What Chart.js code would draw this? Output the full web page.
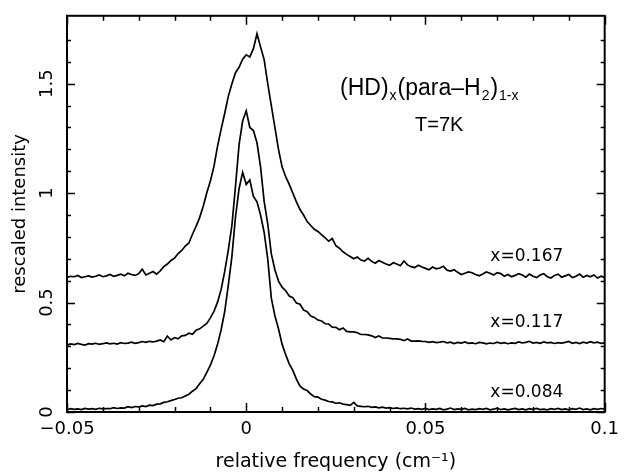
<!doctype html>
<html lang="en">
<head>
<meta charset="utf-8">
<title>HD in para-H2 spectra</title>
<script src="https://cdn.jsdelivr.net/npm/chart.js@4.4.0/dist/chart.umd.min.js"></script>
<style>
  html, body { margin: 0; padding: 0; background: #fff; }
  #wrap { width: 626px; height: 474px; }
</style>
</head>
<body>
<div id="wrap"><canvas id="myChart" width="626" height="474"></canvas></div>
<script>
// relative frequency (cm-1), shared by the three spectra
var freq = [
  -0.050, -0.049, -0.048, -0.047, -0.046, -0.045, -0.044, -0.043, -0.042, -0.041,
  -0.040, -0.039, -0.038, -0.037, -0.036, -0.035, -0.034, -0.033, -0.032, -0.031,
  -0.030, -0.029, -0.028, -0.027, -0.026, -0.025, -0.024, -0.023, -0.022, -0.021,
  -0.020, -0.019, -0.018, -0.017, -0.016, -0.015, -0.014, -0.013, -0.012, -0.011,
  -0.010, -0.009, -0.008, -0.007, -0.006, -0.005, -0.004, -0.003, -0.002, -0.001,
   0.000,  0.001,  0.002,  0.003,  0.004,  0.005,  0.006,  0.007,  0.008,  0.009,
   0.010,  0.011,  0.012,  0.013,  0.014,  0.015,  0.016,  0.017,  0.018,  0.019,
   0.020,  0.021,  0.022,  0.023,  0.024,  0.025,  0.026,  0.027,  0.028,  0.029,
   0.030,  0.031,  0.032,  0.033,  0.034,  0.035,  0.036,  0.037,  0.038,  0.039,
   0.040,  0.041,  0.042,  0.043,  0.044,  0.045,  0.046,  0.047,  0.048,  0.049,
   0.050,  0.051,  0.052,  0.053,  0.054,  0.055,  0.056,  0.057,  0.058,  0.059,
   0.060,  0.061,  0.062,  0.063,  0.064,  0.065,  0.066,  0.067,  0.068,  0.069,
   0.070,  0.071,  0.072,  0.073,  0.074,  0.075,  0.076,  0.077,  0.078,  0.079,
   0.080,  0.081,  0.082,  0.083,  0.084,  0.085,  0.086,  0.087,  0.088,  0.089,
   0.090,  0.091,  0.092,  0.093,  0.094,  0.095,  0.096,  0.097,  0.098,  0.099,
   0.100
];

// x = 0.167 (offset upward)
var int167 = [
  0.615, 0.620, 0.618, 0.624, 0.614, 0.618, 0.622, 0.616, 0.620, 0.626,
  0.618, 0.622, 0.628, 0.620, 0.624, 0.630, 0.622, 0.634, 0.628, 0.624,
  0.632, 0.652, 0.626, 0.634, 0.642, 0.630, 0.645, 0.664, 0.676, 0.692,
  0.703, 0.724, 0.738, 0.758, 0.772, 0.812, 0.848, 0.888, 0.940, 1.002,
  1.055, 1.122, 1.215, 1.292, 1.365, 1.442, 1.500, 1.550, 1.575, 1.612,
  1.632, 1.622, 1.660, 1.728, 1.668, 1.610, 1.500, 1.400, 1.300, 1.200,
  1.120, 1.075, 1.040, 1.000, 0.960, 0.925, 0.900, 0.870, 0.852, 0.835,
  0.825, 0.810, 0.796, 0.780, 0.792, 0.760, 0.748, 0.732, 0.720, 0.710,
  0.700, 0.708, 0.694, 0.690, 0.702, 0.688, 0.680, 0.692, 0.684, 0.676,
  0.670, 0.682, 0.676, 0.668, 0.690, 0.672, 0.664, 0.660, 0.670, 0.662,
  0.656, 0.650, 0.662, 0.654, 0.658, 0.666, 0.648, 0.644, 0.650, 0.638,
  0.628, 0.634, 0.640, 0.636, 0.628, 0.622, 0.630, 0.640, 0.634, 0.626,
  0.636, 0.632, 0.620, 0.628, 0.618, 0.624, 0.632, 0.626, 0.616, 0.630,
  0.620, 0.614, 0.626, 0.632, 0.618, 0.612, 0.624, 0.630, 0.616, 0.622,
  0.628, 0.614, 0.620, 0.630, 0.616, 0.624, 0.618, 0.626, 0.612, 0.620,
  0.614
];

// x = 0.117
var int117 = [
  0.305, 0.311, 0.308, 0.313, 0.309, 0.306, 0.312, 0.310, 0.314, 0.309,
  0.312, 0.316, 0.311, 0.314, 0.310, 0.317, 0.313, 0.315, 0.319, 0.314,
  0.317, 0.322, 0.318, 0.323, 0.320, 0.324, 0.329, 0.321, 0.347, 0.329,
  0.340, 0.334, 0.348, 0.350, 0.360, 0.355, 0.374, 0.380, 0.392, 0.405,
  0.430, 0.460, 0.502, 0.560, 0.642, 0.740, 0.852, 1.030, 1.220, 1.330,
  1.376, 1.300, 1.286, 1.230, 1.120, 0.962, 0.860, 0.722, 0.650, 0.598,
  0.570, 0.554, 0.530, 0.522, 0.498, 0.492, 0.466, 0.458, 0.438, 0.432,
  0.420, 0.416, 0.403, 0.402, 0.388, 0.387, 0.376, 0.384, 0.368, 0.366,
  0.366, 0.362, 0.354, 0.354, 0.352, 0.348, 0.340, 0.347, 0.338, 0.338,
  0.336, 0.334, 0.334, 0.332, 0.326, 0.334, 0.324, 0.324, 0.325, 0.323,
  0.322, 0.318, 0.321, 0.317, 0.319, 0.322, 0.316, 0.319, 0.313, 0.318,
  0.315, 0.320, 0.314, 0.316, 0.312, 0.318, 0.316, 0.311, 0.315, 0.313,
  0.319, 0.314, 0.317, 0.312, 0.316, 0.314, 0.320, 0.316, 0.318, 0.323,
  0.315, 0.318, 0.314, 0.320, 0.316, 0.318, 0.313, 0.317, 0.315, 0.318,
  0.322, 0.314, 0.318, 0.313, 0.319, 0.315, 0.321, 0.316, 0.319, 0.314,
  0.316
];

// x = 0.084
var int084 = [
  0.010, 0.015, 0.012, 0.014, 0.011, 0.016, 0.013, 0.015, 0.012, 0.017,
  0.014, 0.016, 0.015, 0.020, 0.016, 0.019, 0.018, 0.024, 0.020, 0.025,
  0.023, 0.028, 0.025, 0.031, 0.029, 0.036, 0.037, 0.044, 0.047, 0.052,
  0.057, 0.063, 0.065, 0.073, 0.081, 0.095, 0.107, 0.129, 0.149, 0.181,
  0.214, 0.256, 0.309, 0.376, 0.459, 0.580, 0.710, 0.890, 1.020, 1.095,
  1.040, 1.060, 0.985, 0.960, 0.900, 0.820, 0.700, 0.520, 0.440, 0.380,
  0.310, 0.262, 0.220, 0.190, 0.150, 0.118, 0.105, 0.098, 0.082, 0.070,
  0.068, 0.058, 0.054, 0.048, 0.046, 0.040, 0.042, 0.036, 0.034, 0.030,
  0.044, 0.028, 0.026, 0.024, 0.026, 0.021, 0.023, 0.019, 0.022, 0.018,
  0.020, 0.016, 0.019, 0.015, 0.017, 0.014, 0.018, 0.013, 0.015, 0.012,
  0.016, 0.011, 0.014, 0.012, 0.016, 0.010, 0.013, 0.018, 0.011, 0.014,
  0.012, 0.016, 0.010, 0.013, 0.011, 0.015, 0.012, 0.016, 0.010, 0.013,
  0.017, 0.011, 0.014, 0.010, 0.013, 0.016, 0.011, 0.014, 0.010, 0.015,
  0.012, 0.016, 0.011, 0.013, 0.010, 0.015, 0.012, 0.016, 0.011, 0.014,
  0.010, 0.015, 0.012, 0.018, 0.011, 0.014, 0.010, 0.015, 0.012, 0.016,
  0.013
];

var seriesNames = ['x=0.167', 'x=0.117', 'x=0.084'];
var seriesData = [int167, int117, int084];
// where each curve label sits, in data units (left edge, baseline)
var labelX = [0.0681, 0.0681, 0.0681];
var labelY = [0.688, 0.388, 0.070];

function toPoints(ys) {
  return freq.map(function (f, i) { return { x: f, y: ys[i] }; });
}

function isMult(v, step) {
  var r = v / step;
  return Math.abs(r - Math.round(r)) < 1e-6;
}

function fmt(v) {
  var s = String(parseFloat(v.toFixed(3)));
  return s.charAt(0) === '-' ? '\u2212' + s.substr(1) : s;
}

// frame with inward ticks on all four sides
var frameTicks = {
  id: 'frameTicks',
  afterDatasetsDraw: function (chart) {
    var ctx = chart.ctx, a = chart.chartArea;
    var xs = chart.scales.x, ys = chart.scales.y;
    ctx.save();
    ctx.strokeStyle = '#000';
    ctx.lineWidth = 1.5;
    ctx.beginPath();
    xs.ticks.forEach(function (t) {
      if (!isMult(t.value, 0.01)) return;
      var px = Math.round(xs.getPixelForValue(t.value)) + 0.5;
      var len = isMult(t.value, 0.05) ? 9 : 5;
      ctx.moveTo(px, a.bottom); ctx.lineTo(px, a.bottom - len);
      ctx.moveTo(px, a.top); ctx.lineTo(px, a.top + len);
    });
    ys.ticks.forEach(function (t) {
      if (!isMult(t.value, 0.1)) return;
      var py = Math.round(ys.getPixelForValue(t.value)) + 0.5;
      var len = isMult(t.value, 0.5) ? 8 : 4;
      ctx.moveTo(a.left, py); ctx.lineTo(a.left + len, py);
      ctx.moveTo(a.right, py); ctx.lineTo(a.right - len, py);
    });
    ctx.stroke();
    ctx.lineWidth = 2;
    ctx.strokeRect(a.left, a.top, a.right - a.left, a.bottom - a.top);
    ctx.restore();
  }
};

// in-plot texts: sample formula, temperature, curve names
var plotTexts = {
  id: 'plotTexts',
  afterDraw: function (chart) {
    var ctx = chart.ctx;
    var xs = chart.scales.x, ys = chart.scales.y;
    ctx.save();
    ctx.fillStyle = '#000';
    ctx.textBaseline = 'alphabetic';
    ctx.textAlign = 'left';

    var big = '23px "Liberation Sans", Arial, sans-serif';
    var small = '14px "Liberation Sans", Arial, sans-serif';
    var parts = [
      ['(HD)', big, 0], ['x', small, 5], ['(para\u2013H', big, 0],
      ['2', small, 5], [')', big, 0], ['1-x', small, 5]
    ];
    var cx = 340, base = 95;
    parts.forEach(function (p) {
      ctx.font = p[1];
      ctx.fillText(p[0], cx, base + p[2]);
      cx += ctx.measureText(p[0]).width + 1;
    });

    ctx.font = '20px "Liberation Sans", Arial, sans-serif';
    ctx.fillText('T=7K', 415, 131);

    ctx.font = '17px "DejaVu Sans", sans-serif';
    seriesNames.forEach(function (name, i) {
      ctx.fillText(name, xs.getPixelForValue(labelX[i]), ys.getPixelForValue(labelY[i]));
    });
    ctx.restore();
  }
};

var ctx = document.getElementById('myChart').getContext('2d');

var myChart = new Chart(ctx, {
  type: 'line',
  data: {
    datasets: seriesData.map(function (s, i) {
      return {
        label: seriesNames[i],
        data: toPoints(s),
        borderColor: '#000',
        borderWidth: 1.7,
        pointRadius: 0,
        tension: 0,
        fill: false
      };
    })
  },
  options: {
    responsive: false,
    animation: false,
    devicePixelRatio: 1,
    layout: { padding: { left: 0, top: 15, right: 13, bottom: 0 } },
    plugins: { legend: { display: false }, tooltip: { enabled: false } },
    scales: {
      x: {
        type: 'linear',
        min: -0.05,
        max: 0.1,
        grid: { display: false, drawTicks: false },
        border: { display: false },
        ticks: {
          stepSize: 0.01,
          autoSkip: false,
          minRotation: 0,
          maxRotation: 0,
          padding: 7,
          color: '#000',
          font: { family: '"DejaVu Sans", sans-serif', size: 18 },
          callback: function (v) { return isMult(v, 0.05) ? fmt(v) : ''; }
        },
        title: {
          display: true,
          text: 'relative frequency (cm\u207B\u00B9)',
          color: '#000',
          font: { family: '"DejaVu Sans", sans-serif', size: 19 },
          padding: { top: 0, bottom: 1 }
        },
        afterFit: function (s) { s.height = 62; }
      },
      y: {
        type: 'linear',
        min: 0,
        max: 1.81,
        grid: { display: false, drawTicks: false },
        border: { display: false },
        ticks: {
          stepSize: 0.1,
          autoSkip: false,
          minRotation: 90,
          maxRotation: 90,
          crossAlign: 'center',
          padding: 5,
          color: '#000',
          font: { family: '"DejaVu Sans", sans-serif', size: 18 },
          callback: function (v) { return isMult(v, 0.5) ? fmt(v) : ''; }
        },
        title: {
          display: true,
          text: 'rescaled intensity',
          color: '#000',
          font: { family: '"DejaVu Sans", sans-serif', size: 18 },
          padding: { top: 10, bottom: 0 }
        },
        afterFit: function (s) { s.width = 67; }
      }
    }
  },
  plugins: [frameTicks, plotTexts]
});
</script>
</body>
</html>
